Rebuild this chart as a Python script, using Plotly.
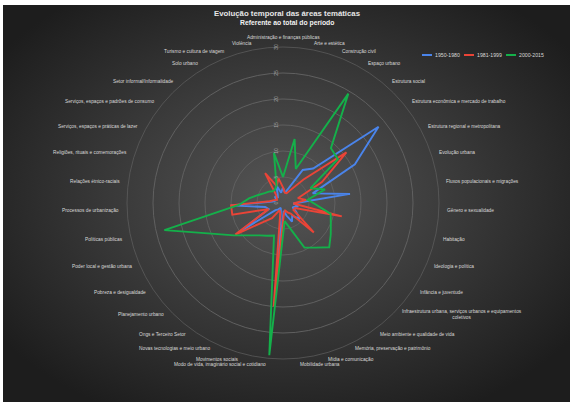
import base64
import math
import plotly.graph_objects as go

# Thematic areas (clockwise from the top)
categories = [
    "Administração e finanças públicas", "Arte e estética", "Construção civil",
    "Espaço urbano", "Estrutura social", "Estrutura econômica e mercado de trabalho",
    "Estrutura regional e metropolitana", "Evolução urbana",
    "Fluxos populacionais e migrações", "Gênero e sexualidade", "Habitação",
    "Ideologia e política", "Infância e juventude",
    "Infraestrutura urbana, serviços urbanos e equipamentos<br>coletivos",
    "Meio ambiente e qualidade de vida", "Memória, preservação e patrimônio",
    "Mídia e comunicação", "Mobilidade urbana",
    "Modo de vida, imaginário social e cotidiano", "Movimentos sociais",
    "Novas tecnologias e meio urbano", "Ongs e Terceiro Setor", "Planejamento urbano",
    "Pobreza e desigualdade", "Poder local e gestão urbana", "Políticas públicas",
    "Processos de urbanização", "Relações étnico-raciais",
    "Religiões, rituais e comemorações", "Serviços, espaços e práticas de lazer",
    "Serviços, espaços e padrões de consumo", "Setor informal/Informalidade",
    "Solo urbano", "Turismo e cultura de viagem", "Violência",
]

p1950_1980 = [3, 2, 3, 7.4, 8.8, 23.5, 15.7, 6, 13, 2, 3, 2, 3, 4.5, 3, 4, 2.5, 1.5,
              12, 1.5, 1, 1.5, 2, 9.8, 3, 3.5, 10, 2, 1.5, 1.5, 2, 1.5, 2, 3.7, 2]
p1981_1999 = [3, 2, 2, 3, 6, 15.6, 8.5, 3, 4.5, 2, 11.6, 2.5, 2.4, 8.2, 2.5, 2, 1.5, 2,
              20, 2, 1.5, 3.6, 5.3, 11, 3, 10, 10, 2.6, 1.8, 1.3, 1.5, 2, 6.7, 3.5, 4.8]
p2000_2015 = [5, 12.5, 7, 24.5, 14, 13.5, 6, 8.5, 4.8, 6.3, 9.4, 10, 11, 12.3, 10.6,
              9.5, 5, 3.5, 29.4, 6.5, 7, 7.7, 9, 11.3, 15, 23.4, 8.5, 6.6, 5, 4, 3.5, 3,
              3, 3.5, 9.8]

series = [
    ("1950-1980", p1950_1980, "#4a84ea"),
    ("1981-1999", p1981_1999, "#ea4437"),
    ("2000-2015", p2000_2015, "#14b04a"),
]

W, H = 577, 408
FONT = "Liberation Sans, Arial, sans-serif"
cx, cy, R = 283, 203, 156   # polar centre and radius in pixels

fig = go.Figure()
for name, vals, color in series:
    fig.add_trace(go.Scatterpolar(
        r=vals + vals[:1], theta=categories + categories[:1],
        mode="lines", name=name,
        line=dict(color=color, width=1.9),
    ))

# dark radial gradient background
svg = ("<svg xmlns='http://www.w3.org/2000/svg' width='567' height='397'>"
       "<defs><radialGradient id='g' cx='50%' cy='48%' r='62%'>"
       "<stop offset='0' stop-color='#555555'/>"
       "<stop offset='1' stop-color='#1d1d1d'/></radialGradient></defs>"
       "<rect width='100%' height='100%' fill='url(#g)'/></svg>")
bg = "data:image/svg+xml;base64," + base64.b64encode(svg.encode()).decode()

annotations = [
    dict(text="<b>Evolução temporal das áreas temáticas</b>", x=287 / W, y=1 - 14 / H,
         xref="paper", yref="paper", showarrow=False, yanchor="middle",
         font=dict(size=7.8, color="#e6e6e6", family=FONT)),
    dict(text="<b>Referente ao total do período</b>", x=287 / W, y=1 - 23 / H,
         xref="paper", yref="paper", showarrow=False, yanchor="middle",
         font=dict(size=6.8, color="#f2f2f2", family=FONT)),
]

# category labels placed outside the rings, aligned away from the centre
n = len(categories)
for i, cat in enumerate(categories):
    a = math.radians(i * 360 / n)
    s, c = math.sin(a), math.cos(a)
    rl = 166 if abs(s) < 0.05 else 162
    if s > 0.05:
        xa = "left"
    elif s < -0.05:
        xa = "right"
    else:
        xa = "center"
    annotations.append(dict(text=cat, x=(cx + rl * s) / W, y=1 - (cy - rl * c) / H,
                            xref="paper", yref="paper", xanchor=xa, yanchor="middle",
                            align="center", showarrow=False,
                            font=dict(size=4.8, color="#d9d9d9", family=FONT)))

# legend built by hand (small keys like the original)
shapes = []
for k, (name, vals, color) in enumerate(series):
    x0 = 422 + k * 42
    shapes.append(dict(type="line", xref="paper", yref="paper",
                       x0=x0 / W, x1=(x0 + 10) / W, y0=1 - 55 / H, y1=1 - 55 / H,
                       line=dict(color=color, width=2)))
    annotations.append(dict(text=name, x=(x0 + 11) / W, y=1 - 55 / H,
                            xref="paper", yref="paper", xanchor="left",
                            yanchor="middle", showarrow=False,
                            font=dict(size=5.2, color="#d9d9d9", family=FONT)))

fig.update_layout(
    width=W, height=H,
    margin=dict(l=0, r=0, t=0, b=0),
    paper_bgcolor="white",
    showlegend=False,
    font=dict(family=FONT, color="#d9d9d9"),
    images=[dict(source=bg, xref="paper", yref="paper", x=3 / W, y=1 - 5 / H,
                 sizex=567 / W, sizey=397 / H, sizing="stretch", layer="below",
                 xanchor="left", yanchor="top")],
    annotations=annotations,
    shapes=shapes,
    polar=dict(
        domain=dict(x=[(cx - R) / W, (cx + R) / W], y=[1 - (cy + R) / H, 1 - (cy - R) / H]),
        bgcolor="rgba(0,0,0,0)",
        radialaxis=dict(range=[0, 30], dtick=5, angle=90, tickangle=0,
                        side="counterclockwise", showline=False,
                        ticks="outside", ticklen=3, tickcolor="rgba(0,0,0,0)",
                        gridcolor="#606060", gridwidth=0.7,
                        tickfont=dict(size=5, color="#a6a6a6")),
        angularaxis=dict(type="category", rotation=90, direction="clockwise",
                         showgrid=False, showline=True, linecolor="#606060",
                         linewidth=0.7, showticklabels=False, ticks=""),
    ),
)

fig.write_html("out.html", config={"displayModeBar": False},
               post_script="document.body.style.margin='0';")
